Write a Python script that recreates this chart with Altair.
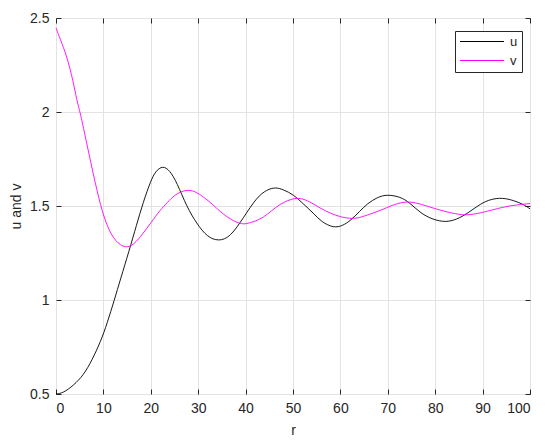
import altair as alt
import pandas as pd

# u(r)
u_r = [0, 1.5, 3.7, 5.8, 7.6, 9.4, 10.8, 12.3, 13.6, 15.4, 17, 18.4, 20, 21, 22.5, 24, 25.5,
       27.6, 29.7, 31.9, 34.3, 36.8, 39.6, 42.4, 44.5, 46.3, 48, 50.2, 52, 54.4, 56, 58.6,
       60.5, 62.2, 64, 65.7, 67.8, 69.9, 72.7, 74.5, 77, 79.5, 82.2, 84.5, 86.8, 89.6,
       91.8, 94.2, 96.5, 98.5, 100]
u_v = [0.5, 0.505, 0.546, 0.6, 0.68, 0.778, 0.876, 1.0, 1.11, 1.26, 1.4, 1.52, 1.635,
       1.685, 1.715, 1.69, 1.625, 1.495, 1.406, 1.335, 1.312, 1.335, 1.44, 1.548, 1.587,
       1.6, 1.587, 1.559, 1.515, 1.46, 1.415, 1.383, 1.395, 1.424, 1.47, 1.513, 1.547,
       1.562, 1.548, 1.52, 1.46, 1.428, 1.413, 1.428, 1.46, 1.513, 1.537, 1.544, 1.53,
       1.51, 1.485]

# v(r)
v_r = [0, 0.85, 2.26, 3.66, 4.4, 5.1, 6.5, 7.9, 9.4, 10.8, 12.5, 14.7, 16.4, 18.4, 20, 22,
       23.5, 25, 27.5, 29.5, 31.1, 33, 34.7, 37, 39, 40, 42, 43.8, 45.5, 47.4, 49.5, 51,
       53, 55.8, 58, 60, 62, 63.5, 65.5, 68.5, 71, 73, 74.8, 77, 79.8, 82.5, 85, 86.6, 89,
       91, 93.2, 96, 100]
v_v = [2.447, 2.39, 2.3, 2.16, 2.06, 2.0, 1.83, 1.665, 1.5, 1.39, 1.31, 1.275, 1.293, 1.355,
       1.41, 1.48, 1.518, 1.56, 1.589, 1.577, 1.548, 1.51, 1.468, 1.425, 1.405, 1.404, 1.418,
       1.44, 1.475, 1.513, 1.535, 1.544, 1.532, 1.487, 1.46, 1.442, 1.433, 1.434, 1.45,
       1.477, 1.505, 1.52, 1.523, 1.51, 1.487, 1.468, 1.455, 1.451, 1.46, 1.472, 1.487,
       1.503, 1.513]

x_ticks = [0, 10, 20, 30, 40, 50, 60, 70, 80, 90, 100]
y_ticks = [0.5, 1, 1.5, 2, 2.5]
series_names = ["u", "v"]
series_colors = ["#000000", "#ff00ff"]

df = pd.concat([
    pd.DataFrame({"r": u_r, "value": u_v, "series": "u"}),
    pd.DataFrame({"r": v_r, "value": v_v, "series": "v"}),
])

FONT = "Liberation Sans"
AX = "#262626"

xscale = alt.Scale(domain=[0, 100], nice=False, zero=False)
yscale = alt.Scale(domain=[0.5, 2.5], nice=False, zero=False)

lines = alt.Chart(df).mark_line(strokeWidth=0.9, interpolate="basis").encode(
    x=alt.X("r:Q", scale=xscale,
            axis=alt.Axis(values=x_ticks, orient="bottom", offset=-5, tickSize=5,
                          domain=False, grid=True, labelPadding=7, title="r",
                          titlePadding=8, format="d")),
    y=alt.Y("value:Q", scale=yscale,
            axis=alt.Axis(values=y_ticks, orient="left", offset=-5, tickSize=5,
                          domain=False, grid=True, labelPadding=7, title="u and v",
                          titlePadding=6, format="~g")),
    color=alt.Color("series:N",
                    scale=alt.Scale(domain=series_names, range=series_colors),
                    legend=alt.Legend(title=None, orient="none", legendX=399, legendY=13,
                                      symbolType="M-1,0H7", symbolSize=121,
                                      symbolStrokeWidth=1, strokeColor=AX,
                                      fillColor="white", padding=4, rowPadding=5,
                                      labelFontSize=13, labelOffset=38,
                                      cornerRadius=0)),
    order="r:Q",
)

ticks_tr = alt.Chart(df).mark_point(opacity=0).encode(
    x=alt.X("r:Q", scale=xscale,
            axis=alt.Axis(values=x_ticks, orient="top", offset=-5, tickSize=5,
                          domain=False, grid=False, labels=False, title=None)),
    y=alt.Y("value:Q", scale=yscale,
            axis=alt.Axis(values=y_ticks, orient="right", offset=-5, tickSize=5,
                          domain=False, grid=False, labels=False, title=None)),
)

chart = alt.layer(lines, ticks_tr).resolve_axis(x="independent", y="independent").properties(
    width=474, height=376,
    autosize=alt.AutoSizeParams(type="none"),
    padding={"left": 48, "top": 10, "right": 12, "bottom": 50},
).configure_view(stroke=AX, strokeWidth=1).configure_axis(
    labelFont=FONT, titleFont=FONT, labelFontSize=14, titleFontSize=14,
    labelColor=AX, titleColor=AX, tickColor=AX, tickWidth=1,
    gridColor="#e3e3e3", gridWidth=1, titleFontWeight="normal",
).configure_legend(labelFont=FONT, labelColor=AX)

chart.save("out.html", embed_options={"renderer": "svg", "actions": False})
